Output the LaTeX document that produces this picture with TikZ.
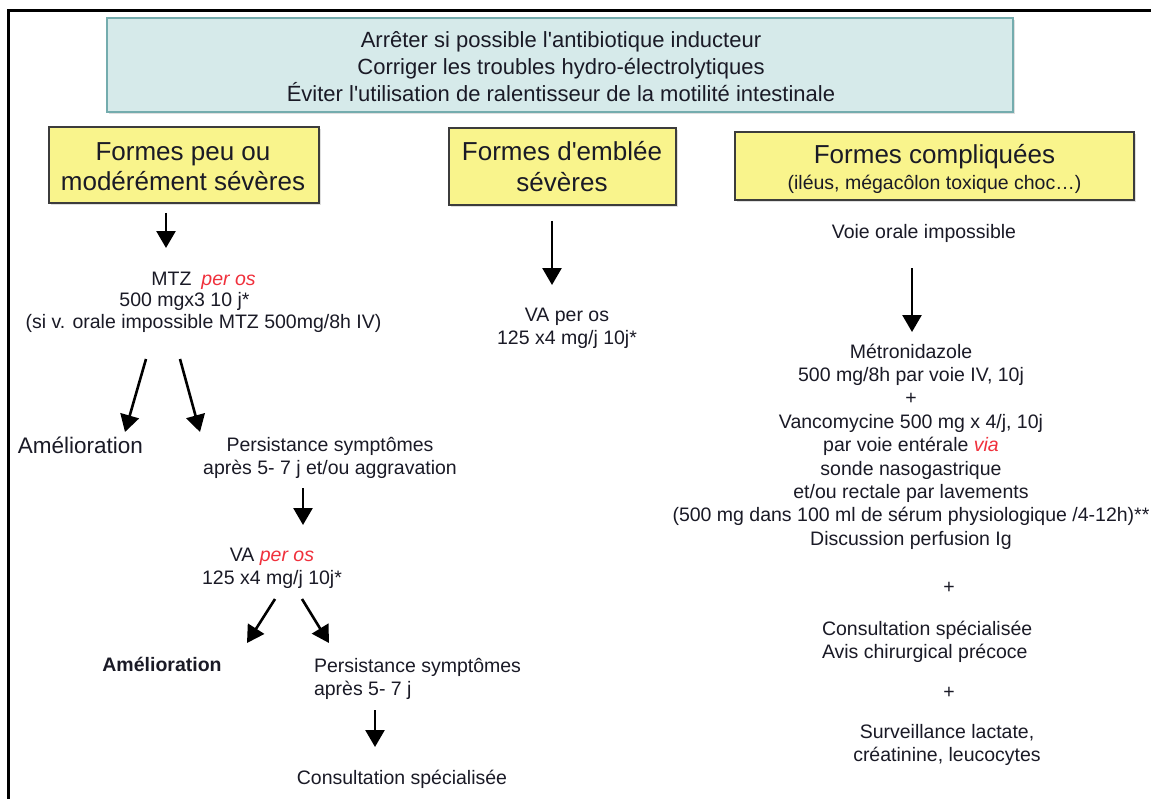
\documentclass[tikz,border=0pt]{standalone}
\usepackage{fontspec}
\setmainfont{Liberation Sans}
\newfontfamily\lsans{Liberation Sans}
\usetikzlibrary{arrows.meta,shadows}
\definecolor{ybg}{HTML}{F9F48C}
\definecolor{yfr}{HTML}{3C3C3C}
\definecolor{cbg}{HTML}{D6EAEA}
\definecolor{cfr}{HTML}{74ACAE}
\definecolor{redt}{HTML}{F0303C}
\definecolor{txt}{HTML}{1A1A26}
\newcommand\bodyf{\fontsize{19.5}{23.4}\selectfont}
\newcommand\ctab[1]{\begin{tabular}[t]{@{}c@{}}#1\end{tabular}}
\newcommand\ltab[1]{\begin{tabular}[t]{@{}l@{}}#1\end{tabular}}
\newcommand\redit[1]{\textcolor{redt}{\itshape #1}}
\begin{document}
\begin{tikzpicture}[x=1pt,y=-1pt,
  ybox/.style={draw=yfr, line width=1.8pt, fill=ybg, inner sep=0pt,
    drop shadow={shadow xshift=1.5pt, shadow yshift=-1.5pt, opacity=0.25}},
  cbox/.style={draw=cfr, line width=2.2pt, fill=cbg, inner sep=0pt,
    drop shadow={shadow xshift=1.5pt, shadow yshift=-1.5pt, opacity=0.25}},
  txtn/.style={inner sep=0pt, outer sep=0pt, anchor=base, text=txt, font=\lsans\bodyf},
  arr/.style={line width=2.6pt, -{Triangle[width=19pt,length=17pt]}},
]
\useasboundingbox (0,0) rectangle (1151,798);
\fill[white] (0,0) rectangle (1151,798);
% outer frame
\draw[line width=3pt, line cap=rect] (8,798) -- (8,10) -- (1151,10);

% top box
\node[cbox, minimum width=906pt, minimum height=94pt] (top) at (560,65) {};
\node[txtn, font=\lsans\fontsize{22}{27}\selectfont] (topt) at (561,47)
  {\ctab{Arrêter si possible l'antibiotique inducteur\\Corriger les troubles hydro-électrolytiques\\Éviter l'utilisation de ralentisseur de la motilité intestinale}};

% yellow boxes
\node[ybox, minimum width=270pt, minimum height=76pt] (b1) at (184,165) {};
\node[txtn, font=\lsans\fontsize{26}{30}\selectfont] (b1t) at (183,160)
  {\ctab{Formes peu ou\\modérément sévères}};
\node[ybox, minimum width=227pt, minimum height=77pt] (b2) at (562.5,166.5) {};
\node[txtn, font=\lsans\fontsize{26}{31}\selectfont] (b2t) at (562,160)
  {\ctab{Formes d'emblée\\sévères}};
\node[ybox, minimum width=399pt, minimum height=68pt] (b3) at (934.5,166) {};
\node[txtn, font=\lsans\fontsize{26}{26}\selectfont] (b3t) at (934.5,163)
  {\ctab{Formes compliquées\\{\fontsize{19.5}{23}\selectfont (iléus, mégacôlon toxique choc…)}}};

% left column
\node[txtn, font=\lsans\fontsize{19.5}{21.5}\selectfont] (mtz) at (203.5,285)
  {\ctab{MTZ\hspace{10pt}\redit{per os}\\500 mgx3 10 j*\hspace*{38pt}\\(si v. orale impossible MTZ 500mg/8h IV)}};
\node[txtn, font=\lsans\fontsize{22.5}{27}\selectfont] (amel1) at (80.5,453) {Amélioration};
\node[txtn] (pers1) at (330,451) {\ctab{Persistance symptômes\\après 5- 7 j et/ou aggravation}};
\node[txtn] (va1) at (272,561) {\ctab{VA \redit{per os}\\125 x4 mg/j 10j*}};
\node[txtn] (amel2) at (162,671) {\textbf{Amélioration}};
\node[txtn, anchor=base west] (pers2) at (314,672) {\ltab{Persistance symptômes\\après 5- 7 j}};
\node[txtn] (cons1) at (402,784) {Consultation spécialisée};

% middle column
\node[txtn] (va2) at (567,321) {\ctab{VA per os\\125 x4 mg/j 10j*}};

% right column
\node[txtn] (voie) at (924,238) {Voie orale impossible};
\node[txtn] (metro) at (911,358)
  {\ctab{Métronidazole\\500 mg/8h par voie IV, 10j\\+\\Vancomycine 500 mg x 4/j, 10j\\par voie entérale \redit{via}\\sonde nasogastrique\\et/ou rectale par lavements\\(500 mg dans 100 ml de sérum physiologique /4-12h)**\\Discussion perfusion Ig}};
\node[txtn] (plus1) at (949,593) {+};
\node[txtn, anchor=base west] (cons2) at (822,635) {\ltab{Consultation spécialisée\\Avis chirurgical précoce}};
\node[txtn] (plus2) at (949,698) {+};
\node[txtn] (surv) at (947,738) {\ctab{Surveillance lactate,\\créatinine, leucocytes}};

% arrows
\draw[arr] ([shift={(-18,9)}]b1.south) -- ([shift={(-37.5,-37)}]mtz.base);
\draw[arr] ([shift={(-57.5,74)}]mtz.base) -- ([shift={(44.5,-21)}]amel1.base);
\draw[arr] ([shift={(-23.5,74)}]mtz.base) -- ([shift={(-130,-19)}]pers1.base);
\draw[arr] ([shift={(-27,37)}]pers1.base) -- ([shift={(31,-36)}]va1.base);
\draw[arr] ([shift={(3,38)}]va1.base) -- ([shift={(85,-28)}]amel2.base);
\draw[arr] ([shift={(30,38)}]va1.base) -- ([shift={(15,-29)}]pers2.base west);
\draw[arr] ([shift={(61,38)}]pers2.base west) -- ([shift={(-27,-37)}]cons1.base);
\draw[arr] ([shift={(-10.5,15)}]b2.south) -- ([shift={(-15,-36)}]va2.base);
\draw[arr] ([shift={(-12,30)}]voie.base) -- ([shift={(1,-26)}]metro.base);
\end{tikzpicture}
\end{document}
